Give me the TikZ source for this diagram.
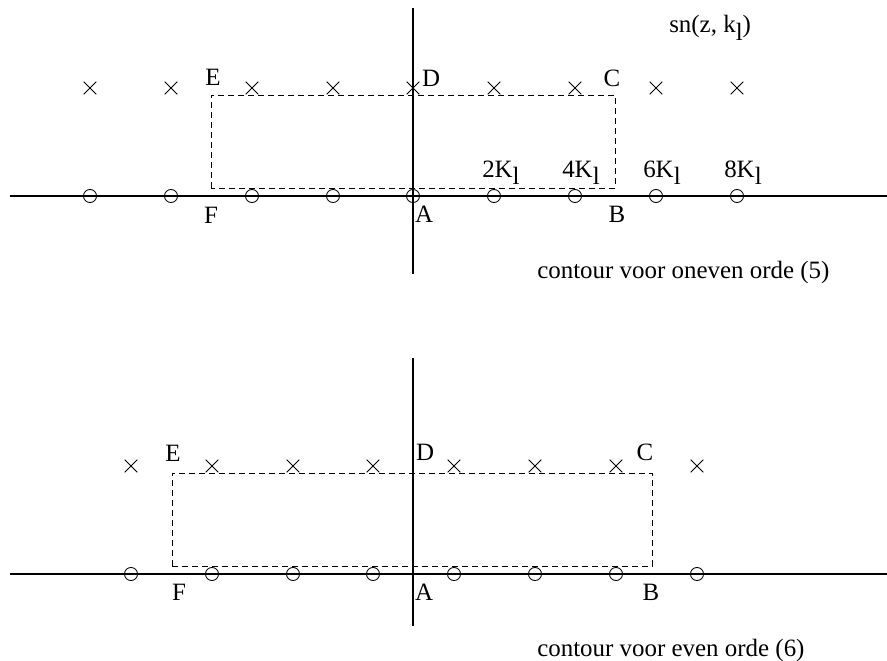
\documentclass[tikz,border=0pt]{standalone}
\usepackage{fontspec}
\setmainfont{Liberation Serif}
\begin{document}
\begin{tikzpicture}[x=0.75pt,y=-0.75pt,
  axis/.style={line width=0.8pt},
  contour/.style={line width=0.6pt,dash pattern=on 4.5pt off 3pt},
  pole/.style={draw,circle,inner sep=0pt,minimum size=9.8pt,line width=0.65pt},
  zero/.style={inner sep=0pt,minimum size=9pt},
  lab/.style={inner sep=0pt,font=\fontsize{18.7}{20}\selectfont}]
\useasboundingbox (0,0) rectangle (887,660);
% ---------- top ----------
\coordinate (tl) at (10,196); \coordinate (tr) at (887,196);
\coordinate (tt) at (413,8); \coordinate (tb) at (413,274);
\draw[axis] (tl) -- (tr);
\draw[axis] (tt) -- (tb);
\coordinate (tF) at (211,188); \coordinate (tE) at (211,95);
\coordinate (tC) at (615,95); \coordinate (tB) at (615,188);
\draw[contour] (tF) -- (tE) -- (tC) -- (tB) -- cycle;
\foreach \i/\x in {1/90,2/171,3/252,4/333,5/413,6/494,7/575,8/656,9/737}{
  \node[pole] (tp\i) at (\x,196) {};
  \node[zero] (tz\i) at (\x,88) {};
  \draw[line width=0.65pt] (tz\i.north west) -- (tz\i.south east) (tz\i.north east) -- (tz\i.south west);
}
\node[lab] (lE) at (213,77) {E};
\node[lab] (lD) at (431,78) {D};
\node[lab] (lC) at (612,78) {C};
\node[lab] (lF) at (211,215) {F};
\node[lab] (lA) at (424,214) {A};
\node[lab] (lB) at (617,214) {B};
\node[lab,anchor=base west] (k2) at (482,177) {2K\raisebox{-5.5pt}{l}};
\node[lab,anchor=base west] (k4) at (562,177) {4K\raisebox{-5.5pt}{l}};
\node[lab,anchor=base west] (k6) at (643,177) {6K\raisebox{-5.5pt}{l}};
\node[lab,anchor=base west] (k8) at (724,177) {8K\raisebox{-5.5pt}{l}};
\node[lab,anchor=base west] (sn) at (669,33) {sn(z, k\raisebox{-5.5pt}{l})};
\node[lab,anchor=base west] (cap1) at (537,278) {contour voor oneven orde (5)};
% ---------- bottom ----------
\coordinate (bl) at (10,574); \coordinate (br) at (887,574);
\coordinate (bt) at (413,358); \coordinate (bb) at (413,626);
\draw[axis] (bl) -- (br);
\draw[axis] (bt) -- (bb);
\coordinate (bF) at (172,566); \coordinate (bE) at (172,473);
\coordinate (bC) at (652,473); \coordinate (bB) at (652,566);
\draw[contour] (bF) -- (bE) -- (bC) -- (bB) -- cycle;
\foreach \i/\x in {1/131,2/212,3/293,4/373,5/454,6/535,7/616,8/697}{
  \node[pole] (bp\i) at (\x,574) {};
  \node[zero] (bz\i) at (\x,466) {};
  \draw[line width=0.65pt] (bz\i.north west) -- (bz\i.south east) (bz\i.north east) -- (bz\i.south west);
}
\node[lab] (mE) at (173,453) {E};
\node[lab] (mD) at (425,452) {D};
\node[lab] (mC) at (645,452) {C};
\node[lab] (mF) at (179,592) {F};
\node[lab] (mA) at (424,592) {A};
\node[lab] (mB) at (651,592) {B};
\node[lab,anchor=base west] (cap2) at (537,656) {contour voor even orde (6)};
\end{tikzpicture}
\end{document}
